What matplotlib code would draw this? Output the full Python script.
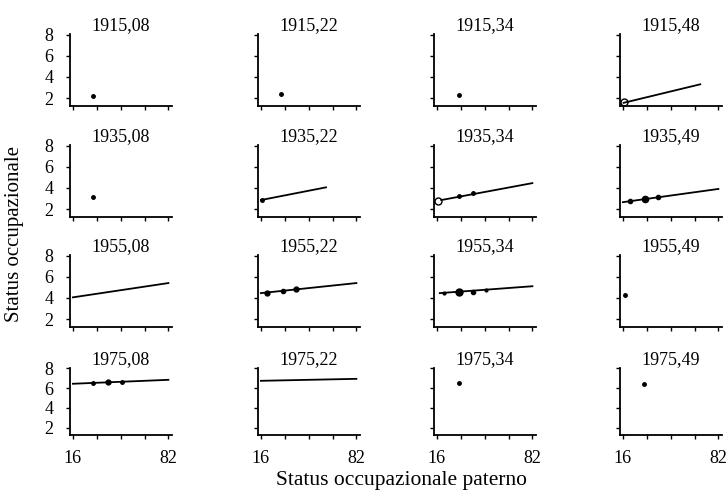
import matplotlib
matplotlib.use("Agg")
import matplotlib.pyplot as plt

plt.rcParams["font.family"] = ["Liberation Serif", "DejaVu Serif"]

# ----------------------------
# DATA
# ----------------------------
titles = [
    ["1915,08", "1915,22", "1915,34", "1915,48"],
    ["1935,08", "1935,22", "1935,34", "1935,49"],
    ["1955,08", "1955,22", "1955,34", "1955,49"],
    ["1975,08", "1975,22", "1975,34", "1975,49"],
]

x_ticks = [16, 32.5, 49, 65.5, 82]
x_tick_labels = ["16", "", "", "", "82"]
y_ticks = [2, 4, 6, 8]
y_tick_labels = ["2", "4", "6", "8"]

# regression lines (start / end)
line_x = {
    "1915,48": [16.5, 69.5],
    "1935,22": [16, 61],
    "1935,34": [19, 82],
    "1935,49": [16, 82],
    "1955,08": [16, 82],
    "1955,22": [16, 82],
    "1955,34": [18, 82],
    "1975,08": [16, 82],
    "1975,22": [16, 82],
}
line_y = {
    "1915,48": [1.55, 3.3],
    "1935,22": [2.85, 4.05],
    "1935,34": [2.85, 4.45],
    "1935,49": [2.65, 3.9],
    "1955,08": [4.05, 5.4],
    "1955,22": [4.45, 5.4],
    "1955,34": [4.45, 5.1],
    "1975,08": [6.45, 6.85],
    "1975,22": [6.75, 6.95],
}

# observed means
dot_x = {
    "1915,08": [30],
    "1915,22": [30],
    "1915,34": [31],
    "1935,08": [30],
    "1935,22": [17],
    "1935,34": [31, 41],
    "1935,49": [21, 31, 40],
    "1955,22": [20, 31, 40],
    "1955,34": [21, 31, 41, 50],
    "1955,49": [17.5],
    "1975,08": [30, 40, 50],
    "1975,34": [31],
    "1975,49": [30.5],
}
dot_y = {
    "1915,08": [2.2],
    "1915,22": [2.4],
    "1915,34": [2.3],
    "1935,08": [3.1],
    "1935,22": [2.85],
    "1935,34": [3.2, 3.5],
    "1935,49": [2.75, 2.95, 3.1],
    "1955,22": [4.5, 4.65, 4.8],
    "1955,34": [4.5, 4.55, 4.6, 4.7],
    "1955,49": [4.25],
    "1975,08": [6.55, 6.6, 6.6],
    "1975,34": [6.5],
    "1975,49": [6.45],
}

ring_x = {"1915,48": [16.5], "1935,34": [17]}
ring_y = {"1915,48": [1.6], "1935,34": [2.75]}

# marker sizes (style)
dot_ms = {
    "1935,49": [3, 4.5, 3],
    "1955,22": [3.5, 3, 3.5],
    "1955,34": [2, 5, 3, 2],
    "1975,08": [2.5, 3.5, 2.5],
}

# ----------------------------
# FIGURE
# ----------------------------
W, H = 728, 493
fig = plt.figure(figsize=(W / 100, H / 100), dpi=100)

col_left = [70, 258, 434, 620]
ax_w = 102
row_top = [34, 145, 255, 368]
row_bot = [106, 217, 327, 435]

for r in range(4):
    for c in range(4):
        name = titles[r][c]
        ax = fig.add_axes([col_left[c] / W, 1 - row_bot[r] / H,
                           ax_w / W, (row_bot[r] - row_top[r]) / H])
        ax.set_xlim(14, 84.5)
        ax.set_ylim(1.25, 8.05)
        for s in ["top", "right"]:
            ax.spines[s].set_visible(False)
        for s in ["left", "bottom"]:
            ax.spines[s].set_linewidth(1.3)
        ax.set_xticks(x_ticks)
        ax.set_yticks(y_ticks)
        ax.tick_params(direction="out", length=3, width=1, labelsize=13)
        ax.tick_params(axis="x", pad=8)
        ax.tick_params(axis="y", pad=9)
        if r == 3:
            ax.set_xticklabels(x_tick_labels)
        else:
            ax.set_xticklabels([])
        if c == 0:
            ax.set_yticklabels(y_tick_labels)
        else:
            ax.set_yticklabels([])

        if name in line_x:
            ax.plot(line_x[name], line_y[name], color="black", lw=1.3)
        if name in dot_x:
            sizes = dot_ms.get(name, [2.5] * len(dot_x[name]))
            for x, y, ms in zip(dot_x[name], dot_y[name], sizes):
                ax.plot(x, y, "o", color="black", ms=ms)
        if name in ring_x:
            ax.plot(ring_x[name], ring_y[name], "o", mfc="none", mec="black",
                    ms=5, mew=1)

        ax.set_title(name, fontsize=13, pad=1)

fig.text(15 / W, 1 - 234 / H, "Status occupazionale", rotation=90,
         ha="center", va="center", fontsize=15)
fig.text(401 / W, 1 - 481 / H, "Status occupazionale paterno",
         ha="center", va="center", fontsize=15.5)

plt.savefig("out.png", dpi=100)
